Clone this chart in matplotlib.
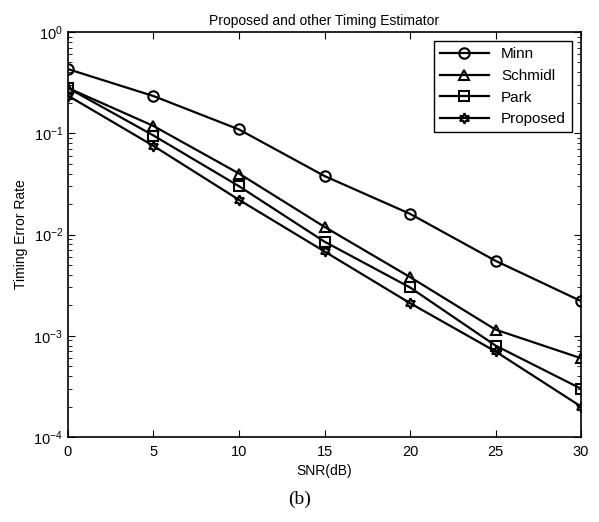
import matplotlib
matplotlib.use("Agg")
import matplotlib.pyplot as plt
from matplotlib.ticker import LogLocator, NullFormatter

snr = [0, 5, 10, 15, 20, 25, 30]
minn = [0.43, 0.233, 0.109, 0.0378, 0.016, 0.0055, 0.0022]
schmidl = [0.28, 0.118, 0.04, 0.0119, 0.0038, 0.00115, 0.0006]
park = [0.28, 0.095, 0.030, 0.0085, 0.003, 0.0008, 0.0003]
proposed = [0.235, 0.075, 0.022, 0.0068, 0.0021, 0.0007, 0.0002]

plt.rcParams["font.family"] = ["Liberation Sans", "DejaVu Sans"]

fig = plt.figure(figsize=(5.99, 5.22), dpi=100)
ax = fig.add_axes([0.1135, 0.1628, 0.8565, 0.7759])

style = dict(color="black", lw=1.6, markerfacecolor="none",
             markeredgecolor="black", markeredgewidth=1.5, markersize=7.5)
ax.semilogy(snr, minn, marker="o", label="Minn", **style)
ax.semilogy(snr, schmidl, marker="^", label="Schmidl", **style)
ax.semilogy(snr, park, marker="s", label="Park", **style)
ax.semilogy(snr, proposed, marker=(6, 1, 0), label="Proposed", **style)

ax.set_xlim(0, 30)
ax.set_ylim(1e-4, 1)
ax.set_xticks([0, 5, 10, 15, 20, 25, 30])
ax.yaxis.set_major_locator(LogLocator(base=10, numticks=10))
ax.yaxis.set_minor_locator(LogLocator(base=10, subs=range(2, 10), numticks=10))
ax.yaxis.set_minor_formatter(NullFormatter())
ax.tick_params(which="both", direction="in", top=True, right=True, labelsize=10.5)
ax.tick_params(axis="x", pad=6)
ax.tick_params(which="major", length=5)
ax.tick_params(which="minor", length=3)
for s in ax.spines.values():
    s.set_linewidth(1.2)

ax.set_xlabel("SNR(dB)", fontsize=10, labelpad=3)
ax.set_ylabel("Timing Error Rate", fontsize=10)
ax.set_title("Proposed and other Timing Estimator", fontsize=10, pad=5)

leg = ax.legend(loc="upper right", fontsize=11, handlelength=3.2,
                fancybox=False, framealpha=1, edgecolor="black",
                borderaxespad=0.6)
leg.get_frame().set_linewidth(1.0)

fig.text(0.5, 0.035, "(b)", ha="center", fontsize=14, family="Liberation Serif")

fig.savefig("out.png", dpi=100)
